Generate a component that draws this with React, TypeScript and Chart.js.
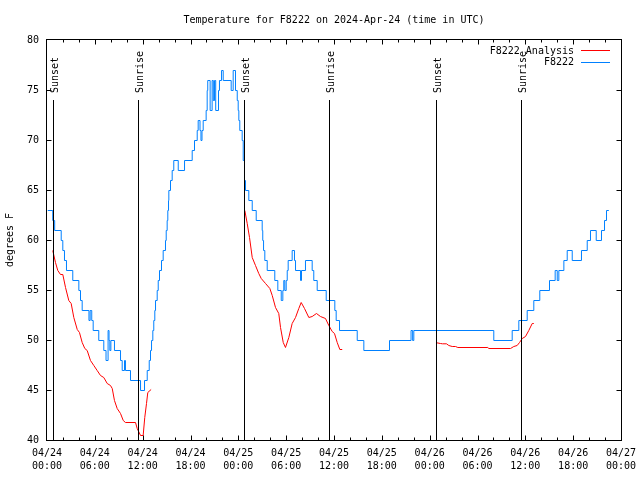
import { useEffect, useRef } from 'react';
import { Chart, registerables } from 'chart.js';

Chart.register(...registerables);

const FONT = "'DejaVu Sans Mono', 'Liberation Mono', monospace";

const titleText = 'Temperature for F8222 on 2024-Apr-24 (time in UTC)';
const yTitle = 'degrees F';

const xDateLabels = ['04/24', '04/24', '04/24', '04/24', '04/25', '04/25', '04/25', '04/25', '04/26', '04/26', '04/26', '04/26', '04/27'];
const xTimeLabels = ['00:00', '06:00', '12:00', '18:00', '00:00', '06:00', '12:00', '18:00', '00:00', '06:00', '12:00', '18:00', '00:00'];

// hours since 2024-04-24 00:00 UTC
const sunHours = [0.79, 11.45, 24.75, 35.41, 48.83, 59.49];
const sunLabels = ['Sunset', 'Sunrise', 'Sunset', 'Sunrise', 'Sunset', 'Sunrise'];
const sunLineTop = 74;

// F8222 observations (hour at which the reading changes, new value)
const blueHours = [0, 0.66, 0.9, 1.72, 1.92, 2.13, 2.38, 3.17, 3.93, 4.14, 4.35, 5.2, 5.35, 5.55, 5.73, 6.43, 7.06, 7.34, 7.6, 7.72, 7.82, 7.95, 8.4, 9.16, 9.37, 9.66, 9.78, 10.41, 11.67, 12.17, 12.51, 12.76, 12.92, 13.05, 13.21, 13.33, 13.46, 13.55, 13.76, 13.89, 14.05, 14.3, 14.51, 14.8, 14.89, 15.01, 15.09, 15.18, 15.22, 15.43, 15.64, 15.84, 16.4, 17.19, 18.15, 18.44, 18.78, 18.9, 19.13, 19.25, 19.38, 19.53, 19.9, 20.03, 20.1, 20.4, 20.65, 20.8, 20.95, 21.1, 21.45, 21.57, 21.83, 22.04, 23.04, 23.29, 23.58, 23.8, 23.92, 24.0, 24.12, 24.42, 24.55, 24.71, 24.84, 25.25, 25.68, 26.18, 26.93, 27.0, 27.1, 27.26, 27.56, 28.51, 28.89, 29.32, 29.52, 29.64, 29.77, 29.94, 30.07, 30.19, 30.69, 30.98, 31.11, 31.74, 31.86, 32.36, 33.2, 33.4, 33.83, 34.96, 36.04, 36.21, 36.63, 38.85, 39.68, 42.9, 45.6, 45.8, 45.95, 55.98, 58.29, 59.12, 60.17, 61.0, 61.75, 62.97, 63.68, 63.94, 64.14, 64.77, 65.19, 65.82, 66.98, 67.7, 68.11, 68.83, 69.49, 69.87, 70.12, 70.41];
const blueTemps = [63, 62, 61, 60, 59, 58, 57, 56, 55, 54, 53, 52, 53, 52, 51, 50, 49, 48, 51, 50, 49, 50, 49, 48, 47, 48, 47, 46, 45, 46, 47, 48, 49, 50, 51, 52, 53, 54, 55, 56, 57, 58, 59, 60, 61, 62, 63, 64, 65, 66, 67, 68, 67, 68, 69, 70, 71, 72, 71, 70, 71, 72, 73, 75, 76, 73, 76, 74, 76, 73, 75, 76, 77, 76, 75, 77, 75, 74, 73, 72, 71, 70, 68, 66, 65, 64, 63, 62, 61, 60, 59, 58, 57, 56, 55, 54, 55, 56, 55, 56, 57, 58, 59, 58, 57, 56, 57, 58, 57, 56, 55, 54, 53, 52, 51, 50, 49, 50, 51, 50, 51, 50, 51, 52, 53, 54, 55, 56, 57, 56, 57, 58, 59, 58, 59, 60, 61, 60, 61, 62, 63, 63];

// F8222 Analysis (null = gap)
const redHours = [0.66, 1.0, 1.29, 1.63, 1.92, 2.26, 2.67, 2.97, 3.3, 3.73, 4.01, 4.35, 4.68, 4.98, 5.39, 5.81, 6.23, 6.65, 7.06, 7.49, 7.9, 8.12, 8.4, 8.74, 9.16, 9.5, 9.78, 11.04, 11.25, 11.67, 12.0, 12.2, 12.42, 12.58, 13.0,
  13.5,
  24.75, 25.05, 25.34, 25.68, 26.09, 26.5, 26.81, 27.35, 27.89, 28.19, 28.6, 29.01, 29.23, 29.57, 29.85, 30.27, 30.69, 31.11, 31.52, 31.82, 32.24, 32.78, 33.2, 33.74, 34.24, 34.87, 35.29, 35.71, 36.0, 36.34, 36.67, 36.97,
  40,
  48.83, 49.3, 49.55, 50.05, 50.34, 50.77, 51.18, 51.47, 55.23, 55.36, 58.08, 58.49, 58.91, 59.21, 59.55, 59.96, 60.37, 60.8, 61.0];
const redTemps = [59, 57.8, 57, 56.6, 56.6, 55.3, 54, 53.7, 52.3, 51.1, 50.8, 49.8, 49.2, 49, 48, 47.5, 47, 46.5, 46.3, 45.7, 45.5, 45.2, 44, 43.2, 42.7, 42, 41.8, 41.8, 41.2, 40.5, 40.5, 42.3, 43.7, 44.8, 45.1,
  null,
  63, 61.7, 60.3, 58.3, 57.5, 56.7, 56.2, 55.7, 55.2, 54.5, 53.3, 52.7, 51.3, 49.8, 49.3, 50.3, 51.7, 52.3, 53.2, 53.8, 53.2, 52.3, 52.4, 52.7, 52.4, 52.2, 51.5, 50.9, 50.7, 49.8, 49.1, 49.1,
  null,
  49.77, 49.7, 49.67, 49.67, 49.5, 49.4, 49.4, 49.3, 49.3, 49.2, 49.2, 49.4, 49.5, 49.8, 50.2, 50.4, 51, 51.7, 51.7];

const decor = {
  id: 'gnuplotDecor',
  beforeDatasetsDraw(chart: any) {
    chart.ctx.save();
    chart.ctx.translate(0.5, 0.5);
  },
  afterDatasetsDraw(chart: any) {
    const { ctx, chartArea: a, scales } = chart;
    ctx.restore();
    const x = scales.x;
    const y = scales.y;
    ctx.save();
    ctx.strokeStyle = '#000';
    ctx.fillStyle = '#000';
    ctx.lineWidth = 1;

    // sunrise / sunset markers
    ctx.font = `10px ${FONT}`;
    sunHours.forEach((h, i) => {
      const px = Math.round(x.getPixelForValue(h)) + 0.5;
      const top = Math.round(y.getPixelForValue(sunLineTop));
      ctx.beginPath();
      ctx.moveTo(px, top);
      ctx.lineTo(px, a.bottom);
      ctx.stroke();
      ctx.save();
      ctx.translate(px + 4.5, top - 7);
      ctx.rotate(-Math.PI / 2);
      ctx.textAlign = 'left';
      ctx.textBaseline = 'alphabetic';
      ctx.fillText(sunLabels[i], 0, 0);
      ctx.restore();
    });

    // border
    const L = Math.round(a.left) - 0.5;
    const R = Math.round(a.right) + 0.5;
    const T = Math.round(a.top) - 0.5;
    const B = Math.round(a.bottom) + 0.5;
    ctx.strokeRect(L, T, R - L, B - T);

    // inward ticks (mirrored)
    ctx.beginPath();
    for (let v = 2; v < 72; v += 2) {
      const px = Math.round(x.getPixelForValue(v)) + 0.5;
      const len = v % 6 === 0 ? 5 : 3;
      ctx.moveTo(px, B);
      ctx.lineTo(px, B - len);
      ctx.moveTo(px, T);
      ctx.lineTo(px, T + len);
    }
    for (let v = 45; v < 80; v += 5) {
      const py = Math.round(y.getPixelForValue(v)) + 0.5;
      ctx.moveTo(L, py);
      ctx.lineTo(L + 5, py);
      ctx.moveTo(R, py);
      ctx.lineTo(R - 5, py);
    }
    ctx.stroke();

    // title
    ctx.textAlign = 'center';
    ctx.textBaseline = 'middle';
    ctx.fillText(titleText, (a.left + a.right) / 2, 20.5);

    // y axis title
    ctx.save();
    ctx.translate(10, (a.top + a.bottom) / 2);
    ctx.rotate(-Math.PI / 2);
    ctx.fillText(yTitle, 0, 0);
    ctx.restore();

    // legend
    ctx.textAlign = 'right';
    chart.data.datasets.forEach((ds: any, i: number) => {
      const rowY = 51 + i * 11.5;
      ctx.fillStyle = '#000';
      ctx.fillText(ds.label, 574, rowY);
      ctx.strokeStyle = ds.borderColor;
      ctx.beginPath();
      ctx.moveTo(581, Math.round(rowY) - 0.5);
      ctx.lineTo(610, Math.round(rowY) - 0.5);
      ctx.stroke();
    });
    ctx.restore();
  },
};

export default function App() {
  const ref = useRef<HTMLCanvasElement>(null);
  useEffect(() => {
    const chart = new Chart(ref.current as HTMLCanvasElement, {
      type: 'line',
      data: {
        datasets: [
          {
            label: 'F8222 Analysis',
            data: redHours.map((h, i) => ({ x: h, y: redTemps[i] })) as any,
            borderColor: '#ff0000',
            borderWidth: 1,
            pointRadius: 0,
            spanGaps: false,
            fill: false,
            order: 1,
          },
          {
            label: 'F8222',
            data: blueHours.map((h, i) => ({ x: h, y: blueTemps[i] })) as any,
            borderColor: '#0080ff',
            borderWidth: 1,
            pointRadius: 0,
            stepped: true,
            fill: false,
            order: 0,
          },
        ],
      },
      options: {
        animation: false,
        responsive: false,
        devicePixelRatio: 1,
        events: [],
        layout: { padding: { top: 40, right: 19, bottom: 0, left: 0 } },
        plugins: {
          legend: { display: false },
          title: { display: false },
          tooltip: { enabled: false },
        },
        scales: {
          x: {
            type: 'linear',
            min: 0,
            max: 72,
            afterFit: (s: any) => { s.height = 40; s.paddingLeft = 0; s.paddingRight = 0; },
            grid: { display: false, drawTicks: false },
            border: { display: false },
            ticks: {
              stepSize: 6,
              autoSkip: false,
              maxRotation: 0,
              padding: 7,
              color: '#000',
              font: { family: FONT, size: 10, lineHeight: 1.3 },
              callback: (v: any) => {
                const i = Math.round(Number(v) / 6);
                return [xDateLabels[i], xTimeLabels[i]];
              },
            },
          },
          y: {
            type: 'linear',
            min: 40,
            max: 80,
            afterFit: (s: any) => { s.width = 47; },
            grid: { display: false, drawTicks: false },
            border: { display: false },
            ticks: {
              stepSize: 5,
              padding: 8,
              color: '#000',
              font: { family: FONT, size: 10 },
            },
          },
        },
      },
      plugins: [decor],
    });
    return () => chart.destroy();
  }, []);

  return (
    <div style={{ position: 'absolute', left: 0, top: 0, width: 640, height: 480, background: '#fff' }}>
      <canvas ref={ref} width={640} height={480} style={{ display: 'block' }} />
    </div>
  );
}
